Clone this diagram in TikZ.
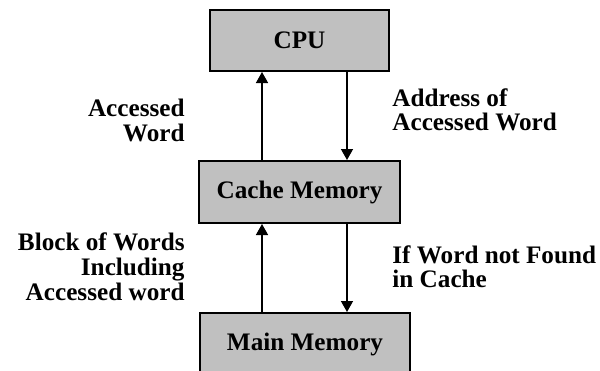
\documentclass[tikz,border=0pt]{standalone}
\usepackage{fontspec}
\setmainfont{Liberation Serif}
\usepackage{tikz}
\usetikzlibrary{arrows.meta,positioning}
\definecolor{boxgray}{RGB}{192,192,192}

\begin{document}
\begin{tikzpicture}[
  font=\fontsize{12.6pt}{12.4pt}\selectfont\bfseries,
  unit/.style={draw, line width=1pt, fill=boxgray, minimum height=30.5pt, inner sep=0pt},
  note/.style={inner sep=0pt, align=#1},
  arr/.style={-{Triangle[length=5.5pt,width=6pt]}, line width=0.75pt},
  node distance=44pt]
\useasboundingbox (0,0) rectangle (300pt,-185pt);
\node[unit, minimum width=89.5pt] (cpu) at (149.75pt,-20.25pt) {CPU};
\node[unit, minimum width=100.5pt, minimum height=31pt, below=of cpu] (cache) {Cache Memory};
\node[unit, minimum width=105pt, minimum height=31.5pt, below=of cache, xshift=2.75pt] (main) {Main Memory};
% labels beside the arrows
\node[note=right, anchor=north east] (accw) at (92.5pt,-49.5pt) {Accessed\\Word};
\node[note=left, anchor=north west] (addr) at (196pt,-44pt) {Address of\\Accessed Word};
\node[note=right, anchor=north east] (block) at (92.5pt,-116.3pt) {Block of Words\\Including\\Accessed word};
\node[note=left, anchor=north west] (miss) at (196pt,-122.5pt) {If Word not Found\\in Cache};
\draw[arr] ([xshift=-18.75pt]cache.north) -- ([xshift=-18.75pt]cpu.south);
\draw[arr] ([xshift=23.75pt]cpu.south) -- ([xshift=23.75pt]cache.north);
\draw[arr] ([xshift=-18.75pt]cache.south |- main.north) -- ([xshift=-18.75pt]cache.south);
\draw[arr] ([xshift=23.75pt]cache.south) -- ([xshift=23.75pt]cache.south |- main.north);
\end{tikzpicture}
\end{document}
